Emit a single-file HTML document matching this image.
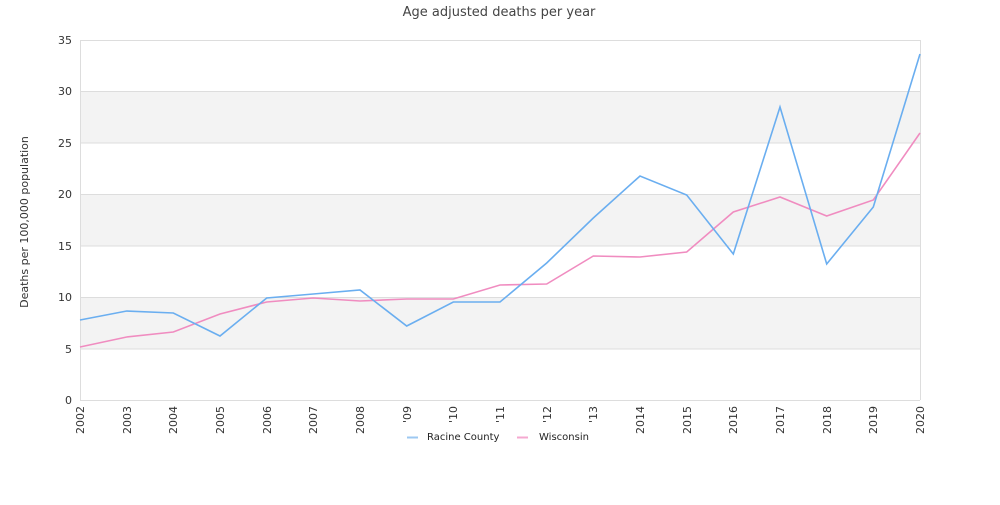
<!DOCTYPE html>
<html><head><meta charset="utf-8"><style>
body{margin:0;background:#fff;width:1000px;height:500px;overflow:hidden}
svg text{font-family:"DejaVu Sans","Liberation Sans",sans-serif;fill:#333}
</style></head><body>
<svg width="1000" height="500" xmlns="http://www.w3.org/2000/svg">
<text x="499" y="16" text-anchor="middle" font-size="13" style="fill:#444">Age adjusted deaths per year</text>
<rect x="80" y="91.4" width="840" height="51.4" fill="#f3f3f3"/>
<rect x="80" y="194.3" width="840" height="51.4" fill="#f3f3f3"/>
<rect x="80" y="297.1" width="840" height="51.4" fill="#f3f3f3"/>
<g stroke="#ddd" stroke-width="1">
<line x1="80" x2="920" y1="40.5" y2="40.5"/>
<line x1="80" x2="920" y1="91.5" y2="91.5"/>
<line x1="80" x2="920" y1="143" y2="143"/>
<line x1="80" x2="920" y1="194.5" y2="194.5"/>
<line x1="80" x2="920" y1="246" y2="246"/>
<line x1="80" x2="920" y1="297.5" y2="297.5"/>
<line x1="80" x2="920" y1="349" y2="349"/>
<line x1="80" x2="920" y1="400.5" y2="400.5"/>
<line x1="80.5" x2="80.5" y1="40" y2="400"/>
<line x1="920.5" x2="920.5" y1="40" y2="400"/>
</g>
<g font-size="11" text-anchor="end">
<text x="72" y="44">35</text><text x="72" y="95">30</text><text x="72" y="147">25</text>
<text x="72" y="198">20</text><text x="72" y="250">15</text><text x="72" y="301">10</text>
<text x="72" y="353">5</text><text x="72" y="404">0</text>
</g>
<text transform="translate(28,222) rotate(-90)" font-size="11" text-anchor="middle">Deaths per 100,000 population</text>
<g font-size="11" text-anchor="end">
<text transform="translate(84,406) rotate(-90)">2002</text>
<text transform="translate(131,406) rotate(-90)">2003</text>
<text transform="translate(177,406) rotate(-90)">2004</text>
<text transform="translate(224,406) rotate(-90)">2005</text>
<text transform="translate(271,406) rotate(-90)">2006</text>
<text transform="translate(317,406) rotate(-90)">2007</text>
<text transform="translate(364,406) rotate(-90)">2008</text>
<text transform="translate(411,406) rotate(-90)">'09</text>
<text transform="translate(457,406) rotate(-90)">'10</text>
<text transform="translate(504,406) rotate(-90)">'11</text>
<text transform="translate(551,406) rotate(-90)">'12</text>
<text transform="translate(597,406) rotate(-90)">'13</text>
<text transform="translate(644,406) rotate(-90)">2014</text>
<text transform="translate(691,406) rotate(-90)">2015</text>
<text transform="translate(737,406) rotate(-90)">2016</text>
<text transform="translate(784,406) rotate(-90)">2017</text>
<text transform="translate(831,406) rotate(-90)">2018</text>
<text transform="translate(877,406) rotate(-90)">2019</text>
<text transform="translate(924,406) rotate(-90)">2020</text>
</g>
<polyline fill="none" stroke="#f08cc0" stroke-width="1.6" points="80,347 126.7,337 173.3,332 220,314 266.7,302 313.3,298 360,301 406.7,299 453.3,299 500,285 546.7,284 593.3,256 640,257 686.7,252 733.3,212 780,197 826.7,216 873.3,200 920,133"/>
<polyline fill="none" stroke="#6aaef0" stroke-width="1.6" points="80,320 126.7,311 173.3,313 220,336 266.7,298 313.3,294 360,290 406.7,326 453.3,302 500,302 546.7,263 593.3,218 640,176 686.7,195 733.3,254 780,107 826.7,264 873.3,207 920,54"/>
<line x1="407" x2="418" y1="437.5" y2="437.5" stroke="#9dc8f2" stroke-width="2"/>
<text x="427" y="440" font-size="10" style="fill:#222">Racine County</text>
<line x1="517" x2="528" y1="437.5" y2="437.5" stroke="#f5a9d0" stroke-width="2"/>
<text x="539" y="440" font-size="10" style="fill:#222">Wisconsin</text>
</svg>
</body></html>
